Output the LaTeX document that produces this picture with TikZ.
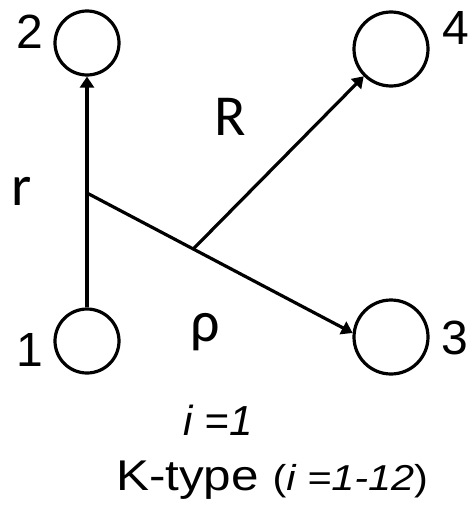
\documentclass[tikz,border=0pt]{standalone}
\usepackage{fontspec}
\setmainfont{Liberation Sans}
\newfontfamily\calfont{Carlito}
\newfontfamily\widefont[FakeStretch=1.15]{Liberation Sans}
\usetikzlibrary{arrows.meta,positioning,calc}

\begin{document}
\begin{tikzpicture}[
        x=1pt, y=-1pt,
        small/.style = {circle, draw, line width=3.2pt, minimum size=64pt, inner sep=0pt},
        big/.style   = {circle, draw, line width=3.2pt, minimum size=74pt, inner sep=0pt},
        num/.style   = {inner sep=0pt, font=\fontsize{48}{48}\selectfont},
        arm/.style   = {inner sep=0pt, font=\calfont\fontsize{58}{58}\selectfont},
        caption/.style = {inner sep=0pt, anchor=base},
        link/.style  = {-{Triangle[length=11pt, width=14pt]}, line width=3.2pt}
    ]
        \useasboundingbox (0,0) rectangle (475,519);

        % ---- atoms ----
        \node[small] (n1) at (87, 341) {};
        \node[small] (n2) at (87, 43) {};
        \node[big] (n3) at (391, 337) {};
        \node[big] (n4) at (391, 49) {};
        \node[num] (l1) at (30, 350) {1};
        \node[num] (l2) at (30, 32) {2};
        \node[num] (l3) at (455, 338) {3};
        \node[num] (l4) at (456, 28) {4};

        % ---- bonds ----
        \coordinate (j1) at (87, 193);
        \draw[link] (n1) -- (n2);
        \draw[link] (j1) -- (n3.174);
        \coordinate (j2) at ($(j1)!0.4!(n3.174)$);
        \draw[link] (j2) -- (n4.225);

        % ---- distances ----
        \node[arm] (r) at (22, 191) {r};
        \node[arm] (R) at (230, 117) {R};
        \node[arm] (rho) at (205, 332) {ρ};

        % ---- caption ----
        \node[caption, font=\fontsize{42}{42}\selectfont\itshape] (ione) at (218, 435) {i =1};
        \node[caption, font=\widefont\fontsize{43}{43}\selectfont] (ktype) at (272, 490)
            {K-type {\fontsize{36}{36}\selectfont(\textit{i =1-12})}};
\end{tikzpicture}
\end{document}
